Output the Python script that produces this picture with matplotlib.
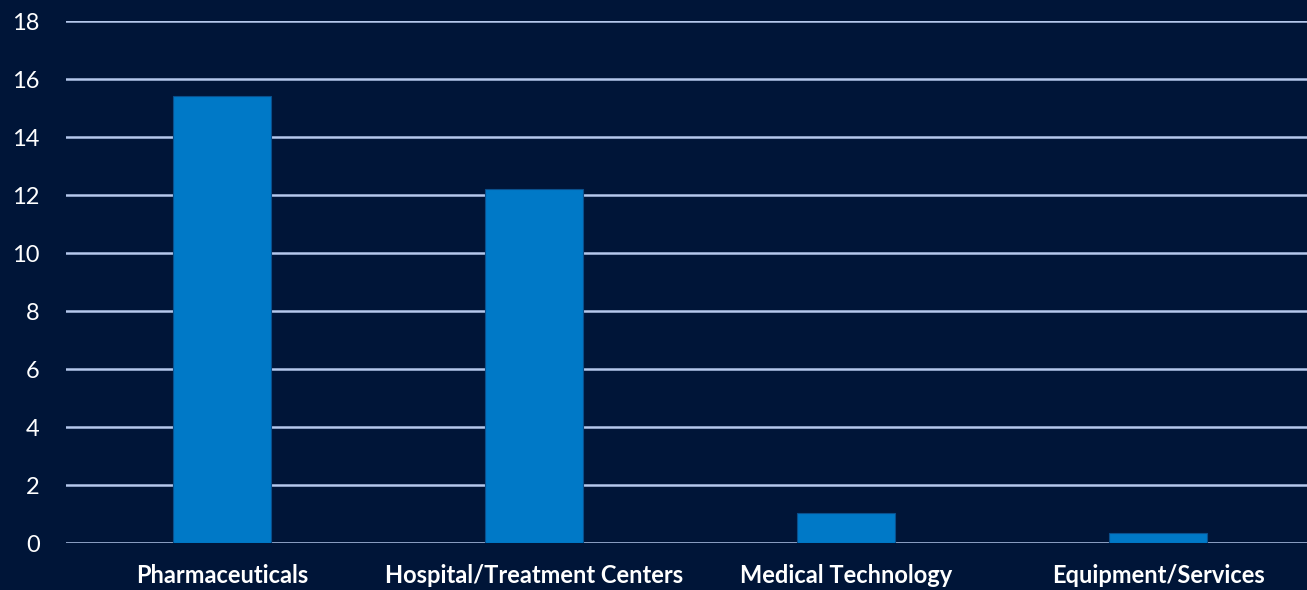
import matplotlib
matplotlib.use("Agg")
import matplotlib.pyplot as plt

categories = ["Pharmaceuticals", "Hospital/Treatment Centers", "Medical Technology", "Equipment/Services"]
values = [15.4, 12.2, 1.03, 0.36]
yticks = [0, 2, 4, 6, 8, 10, 12, 14, 16, 18]

bg = "#001538"
bar_color = "#0079C7"
grid_color = "#B5C8EC"

plt.rcParams['font.family'] = ['Lato', 'DejaVu Sans']

fig = plt.figure(figsize=(13.07, 5.90), dpi=100, facecolor=bg)
ax = fig.add_axes([66/1307, 47/590, (1307-66)/1307, 522/590], facecolor=bg)

x = list(range(len(categories)))
ax.bar(x, values, width=0.314, color=bar_color, edgecolor="#0A4F8C", linewidth=0.8, zorder=3)

ax.set_xlim(-0.5, 3.477)
ax.set_ylim(0, 18)
ax.set_yticks(yticks)
ax.set_yticklabels([str(t) for t in yticks])
ax.set_xticks(x)
ax.set_xticklabels(categories, fontweight="bold")
ax.grid(axis="y", color=grid_color, linewidth=1.8, zorder=1)
ax.set_axisbelow(True)
for s in ax.spines.values():
    s.set_visible(False)
ax.tick_params(axis="y", length=0, pad=19, labelsize=17, labelcolor="white")
ax.tick_params(axis="x", length=0, pad=15, labelsize=17, labelcolor="white")
for lbl in ax.get_yticklabels():
    lbl.set_horizontalalignment("right")

fig.savefig("out.png", dpi=100, facecolor=bg)
